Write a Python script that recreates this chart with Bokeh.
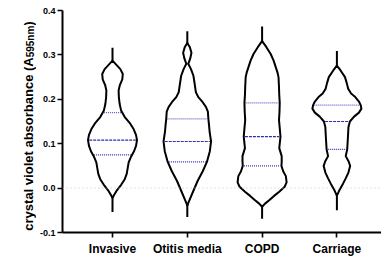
import numpy as np
from bokeh.plotting import figure
from bokeh.layouts import row, column
from bokeh.models import Range1d, FixedTicker, NumeralTickFormatter, Span
from bokeh.embed import file_html
from bokeh.resources import INLINE

categories = ["Invasive", "Otitis media", "COPD", "Carriage"]

# Violin outlines: absorbance level and relative density (1 = widest)
inv_y = [0.287, 0.278, 0.268, 0.257, 0.245, 0.232, 0.220, 0.205, 0.190, 0.175, 0.160, 0.147,
         0.133, 0.120, 0.108, 0.095, 0.083, 0.070, 0.058, 0.045, 0.032, 0.020, 0.008, -0.005,
         -0.015, -0.022]
inv_d = [0.00, 0.15, 0.32, 0.42, 0.40, 0.30, 0.25, 0.26, 0.29, 0.35, 0.50, 0.70,
         0.86, 0.96, 1.00, 0.96, 0.88, 0.75, 0.66, 0.62, 0.58, 0.50, 0.36, 0.18,
         0.07, 0.00]

oti_y = [0.327, 0.318, 0.305, 0.292, 0.280, 0.268, 0.253, 0.235, 0.216, 0.205, 0.194, 0.183,
         0.172, 0.156, 0.140, 0.127, 0.105, 0.083, 0.059, 0.038, 0.016, -0.006, -0.028, -0.039]
oti_d = [0.00, 0.10, 0.17, 0.12, 0.04, 0.15, 0.25, 0.30, 0.35, 0.45, 0.62, 0.76,
         0.84, 0.86, 0.89, 0.91, 0.97, 0.92, 0.80, 0.63, 0.42, 0.25, 0.08, 0.00]

cop_y = [0.331, 0.318, 0.302, 0.287, 0.272, 0.260, 0.250, 0.227, 0.210, 0.192, 0.172, 0.153,
         0.135, 0.116, 0.100, 0.090, 0.072, 0.060, 0.050, 0.038, 0.027, 0.013, 0.003, -0.008,
         -0.017, -0.027, -0.035, -0.042]
cop_d = [0.00, 0.17, 0.35, 0.47, 0.56, 0.63, 0.67, 0.69, 0.70, 0.72, 0.71, 0.69,
         0.72, 0.75, 0.72, 0.70, 0.80, 0.80, 0.79, 0.86, 0.97, 1.00, 0.92, 0.70,
         0.50, 0.30, 0.12, 0.00]

car_y = [0.276, 0.265, 0.250, 0.237, 0.224, 0.213, 0.205, 0.195, 0.187, 0.179, 0.170, 0.161,
         0.150, 0.137, 0.124, 0.105, 0.087, 0.072, 0.060, 0.050, 0.035, 0.022, 0.010, -0.005,
         -0.017]
car_d = [0.00, 0.15, 0.33, 0.40, 0.46, 0.58, 0.75, 0.90, 0.97, 1.00, 0.90, 0.70,
         0.53, 0.47, 0.46, 0.44, 0.42, 0.36, 0.48, 0.54, 0.47, 0.36, 0.25, 0.10,
         0.00]

tail_min = [-0.054, -0.065, -0.069, -0.050]
tail_max = [0.316, 0.353, 0.364, 0.309]
q1 = [0.075, 0.059, 0.050, 0.087]
median = [0.108, 0.105, 0.116, 0.150]
q3 = [0.170, 0.156, 0.192, 0.187]

y_ticks = [-0.1, 0.0, 0.1, 0.2, 0.3, 0.4]

y_title_main = "crystal violet absorbance (A"
y_title_sub = "595nm"
y_title_end = ")"

profiles = [(inv_y, inv_d), (oti_y, oti_d), (cop_y, cop_d), (car_y, car_d)]
positions = [1, 2, 3, 4]

# ---- layout (Bokeh's page template has no body margin) ----
TOTAL_W, H = 381, 258
LAB_W = 36                      # narrow column holding the rotated y title
W = TOTAL_W - LAB_W
FRAME_LEFT_PAGE = 62
B_LEFT = FRAME_LEFT_PAGE - LAB_W
B_RIGHT, B_TOP, B_BOTTOM = 0, 10, 24
PPU_X = 74.8
frame_w = W - B_LEFT - B_RIGHT
x_start = 1 - 50 / PPU_X
x_end = x_start + frame_w / PPU_X
y_start, y_end = -0.1, 0.4
HALF_W = 24.5 / PPU_X

FONT = "Liberation Sans"

p = figure(width=W, height=H, output_backend="svg", toolbar_location=None,
           x_range=Range1d(x_start, x_end), y_range=Range1d(y_start, y_end),
           min_border_left=B_LEFT, min_border_right=B_RIGHT,
           min_border_top=B_TOP, min_border_bottom=B_BOTTOM)
p.outline_line_color = None
p.grid.visible = False
p.background_fill_color = "white"

# zero reference line
p.add_layout(Span(location=0, dimension="width", line_color="#c4c4c4",
                  line_dash="1 3", line_width=1))

for xc, (py, pd), lo, hi, a, m, b in zip(positions, profiles, tail_min, tail_max, q1, median, q3):
    # tails
    p.segment(x0=[xc, xc], y0=[lo, py[-1]], x1=[xc, xc], y1=[py[0], hi],
              line_color="black", line_width=2)
    yy = np.array(py)
    dd = np.array(pd) * HALF_W
    xs = list(xc + dd) + list((xc - dd)[::-1])
    ys = list(yy) + list(yy[::-1])
    p.patch(xs, ys, fill_color="white", line_color="black", line_width=2,
            line_join="round")
    # quartile / median lines
    yi = yy[::-1]
    di = dd[::-1]
    for val, col, dash in [(a, "#3232b0", "1 1"), (b, "#5c5cc8", "1 1"), (m, "#2c2ca8", "3 1")]:
        hw = float(np.interp(val, yi, di)) - 1.2 / PPU_X
        p.segment(x0=[xc - hw], y0=[val], x1=[xc + hw], y1=[val],
                  line_color=col, line_width=1.2, line_dash=dash)

# axes styling
for ax in (p.xaxis[0], p.yaxis[0]):
    ax.axis_line_width = 2
    ax.axis_line_color = "black"
    ax.major_tick_line_width = 1.6
    ax.major_tick_line_color = "black"
    ax.major_tick_out = 5
    ax.major_tick_in = 0
    ax.minor_tick_out = 0
    ax.minor_tick_in = 0
    ax.major_label_text_font = FONT
    ax.major_label_text_font_style = "bold"
    ax.major_label_text_color = "black"

p.yaxis[0].ticker = FixedTicker(ticks=y_ticks)
p.yaxis[0].formatter = NumeralTickFormatter(format="0.0")
p.yaxis[0].major_label_text_font_size = "9px"
p.yaxis[0].major_label_standoff = 2

p.xaxis[0].ticker = FixedTicker(ticks=positions)
p.xaxis[0].major_label_overrides = {k: v for k, v in zip(positions, categories)}
p.xaxis[0].major_label_text_font_size = "12px"
p.xaxis[0].major_label_standoff = 4


# ---- rotated y title pieces, each drawn as the axis label of a tiny invisible panel ----
def title_piece(text, size, height, border_top, border_bottom, border_left):
    f = figure(width=LAB_W, height=height, output_backend="svg", toolbar_location=None,
               x_range=Range1d(0, 1), y_range=Range1d(0, 1),
               x_axis_location=None, y_axis_location="left",
               min_border_left=border_left, min_border_right=0,
               min_border_top=border_top, min_border_bottom=border_bottom)
    f.outline_line_color = None
    f.grid.visible = False
    ax = f.yaxis[0]
    ax.ticker = FixedTicker(ticks=[])
    ax.axis_line_color = None
    ax.major_tick_line_color = None
    ax.minor_tick_line_color = None
    ax.axis_label = text
    ax.axis_label_standoff = 0
    ax.axis_label_text_font = FONT
    ax.axis_label_text_font_style = "bold"
    ax.axis_label_text_font_size = f"{size}px"
    ax.axis_label_text_color = "black"
    return f


piece_end = title_piece(y_title_end, 13, 25, 21, 0, 34)
piece_sub = title_piece(y_title_sub, 10, 32, 0, 0, 35)
piece_main = title_piece(y_title_main, 13, 201, 0, 28, 34)

lab_col = column(piece_end, piece_sub, piece_main, spacing=0)
layout = row(lab_col, p, spacing=0)
open("out.html", "w").write(file_html(layout, INLINE))
